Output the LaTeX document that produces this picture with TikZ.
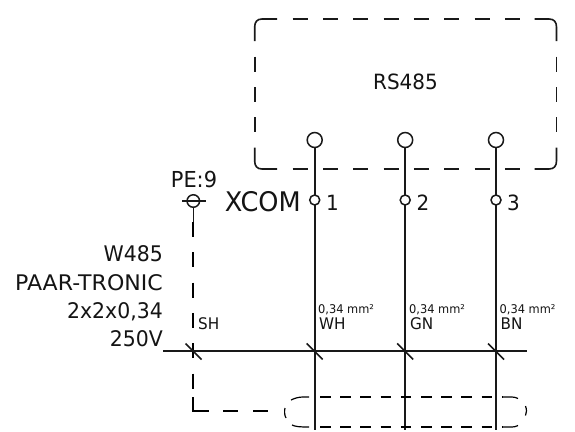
\documentclass[tikz,border=0pt]{standalone}
\usepackage{fontspec}
\setmainfont[FakeStretch=0.95]{DejaVu Sans}
\newcommand{\fs}[1]{\fontsize{#1bp}{#1bp}\selectfont}
\tikzset{
  x=1bp,y=-1bp,
  boxline/.style={line width=1.6bp,black!90},
  boxdash/.style={boxline,dash pattern=on 15bp off 15.3bp},
  wire/.style={line width=2bp,black!90},
  shieldline/.style={line width=2.2bp,black},
  shielddash/.style={shieldline,dash pattern=on 15bp off 15.3bp},
  sleeve/.style={line width=1.2bp,black},
  sleevedash/.style={sleeve,dash pattern=on 10.5bp off 9.7bp},
  term/.style={circle,draw,black!90,line width=1.5bp,fill=white,inner sep=0pt,minimum size=#1},
  lbl/.style={inner sep=0pt,text=black!92,font=\fs{#1}},
  tick/.style={line width=1.5bp,black!90},
}
\begin{document}
\begin{tikzpicture}
\useasboundingbox (0,0) rectangle (575,431);
\fill[white] (0,0) rectangle (575,431);
% RS485 box
\draw[boxline] (254.7,41) -- (254.7,27) .. controls (254.7,22) and (257,19) .. (262,19) -- (277,19);
\draw[boxline] (534.7,19) -- (549,19) .. controls (554,19) and (556.5,22) .. (556.5,27) -- (556.5,41);
\draw[boxline] (254.7,147.7) -- (254.7,161) .. controls (254.7,166) and (257,169) .. (262,169) -- (277,169);
\draw[boxline] (534.7,169) -- (549,169) .. controls (554,169) and (556.5,166) .. (556.5,161) -- (556.5,147.7);
\draw[boxdash] (292.7,19) -- (520,19);
\draw[boxdash] (292.7,169) -- (520,169);
\draw[boxdash] (254.7,56.7) -- (254.7,132);
\draw[boxdash] (556.5,56.7) -- (556.5,132);
\node[lbl=21,anchor=base] (rs) at (405.5,89.3) {RS485};
% Terminals
\node[term=15bp] (t1) at (314.7,140) {};
\node[term=15bp] (t2) at (405.2,140) {};
\node[term=15bp] (t3) at (496,140) {};
\coordinate (e1) at (314.7,430);
\coordinate (e2) at (405.2,430);
\coordinate (e3) at (496,430);
\draw[wire] (t1) -- (e1);
\draw[wire] (t2) -- (e2);
\draw[wire] (t3) -- (e3);
\node[term=10bp] (x1) at (314.7,200) {};
\node[term=10bp] (x2) at (405.2,200) {};
\node[term=10bp] (x3) at (496,200) {};
\node[lbl=21,anchor=base west] (n1) at (326,210) {1};
\node[lbl=21,anchor=base west] (n2) at (416.5,210) {2};
\node[lbl=21,anchor=base west] (n3) at (507,210) {3};
\node[lbl=27,anchor=base east] (xcom) at (301,211) {XCOM};
% PE
\coordinate (pel) at (182,201);
\coordinate (per) at (205.7,201);
\draw[wire,line width=1.4bp] (pel) -- (per);
\node[term=12.5bp,fill=none] (pe) at (193.3,201) {};
\node[lbl=22,anchor=base] (petxt) at (194,187) {PE:9};
\coordinate (s0) at (193.3,222);
\coordinate (s1) at (193.3,389);
\coordinate (s2) at (193.3,397);
\coordinate (sc) at (193.3,411);
\coordinate (s3) at (209,411);
\coordinate (s4) at (223,411);
\coordinate (s5) at (270,411);
\draw[wire,line width=1.4bp] (pe) -- (s0);
\draw[shielddash] (s0) -- (s1);
\draw[shieldline,line join=miter] (s2) -- (sc) -- (s3);
\draw[shielddash] (s4) -- (s5);
% Bus
\coordinate (bl) at (163,351);
\coordinate (br) at (527,351);
\draw[wire] (bl) -- (br);
\draw[tick] (185.5,343.5) -- (201.5,359.5);
\draw[tick] (306.7,343.5) -- (322.7,359.5);
\draw[tick] (397.2,343.5) -- (413.2,359.5);
\draw[tick] (488,343.5) -- (504,359.5);
% Left labels
\node[lbl=21.5,anchor=base east] (w1) at (163,261.5) {W485};
\node[lbl=21.5,anchor=base east] (w2) at (163,290) {\scalebox{1.08}[1]{PAAR-TRONIC}};
\node[lbl=21.5,anchor=base east] (w3) at (163,318) {2x2x0,34};
\node[lbl=21.5,anchor=base east] (w4) at (163,346.5) {250V};
\node[lbl=16,anchor=base west] (sh) at (198,329) {SH};
\foreach \xx/\nm in {319/WH,410/GN,500.5/BN}{
  \node[lbl=16,anchor=base west] (c\nm) at (\xx,329) {\nm};
  \node[lbl=12,anchor=base west] (m\nm) at (\xx-1,313) {0,34 mm²};
}
% Sleeve
\draw[sleevedash] (320,397) -- (503,397);
\draw[sleevedash] (320,427) -- (503,427);
\draw[sleeve] (309,397) -- (303,397) .. controls (299,397) and (295,398) .. (291,400);
\draw[sleeve] (292,425) .. controls (295,426.5) and (299,427) .. (309,427);
\draw[sleeve] (285,408) .. controls (284.3,411) and (284.3,415) .. (286,418);
\draw[sleeve] (503,397) -- (512,397) .. controls (514,397) and (516,397.5) .. (518,398.5);
\draw[sleeve] (503,427) -- (512,427) .. controls (514,427) and (516,426.5) .. (518,425.5);
\draw[sleeve] (525.5,406) .. controls (526.8,409.5) and (526.8,412.5) .. (525.5,415.5);
\end{tikzpicture}
\end{document}
